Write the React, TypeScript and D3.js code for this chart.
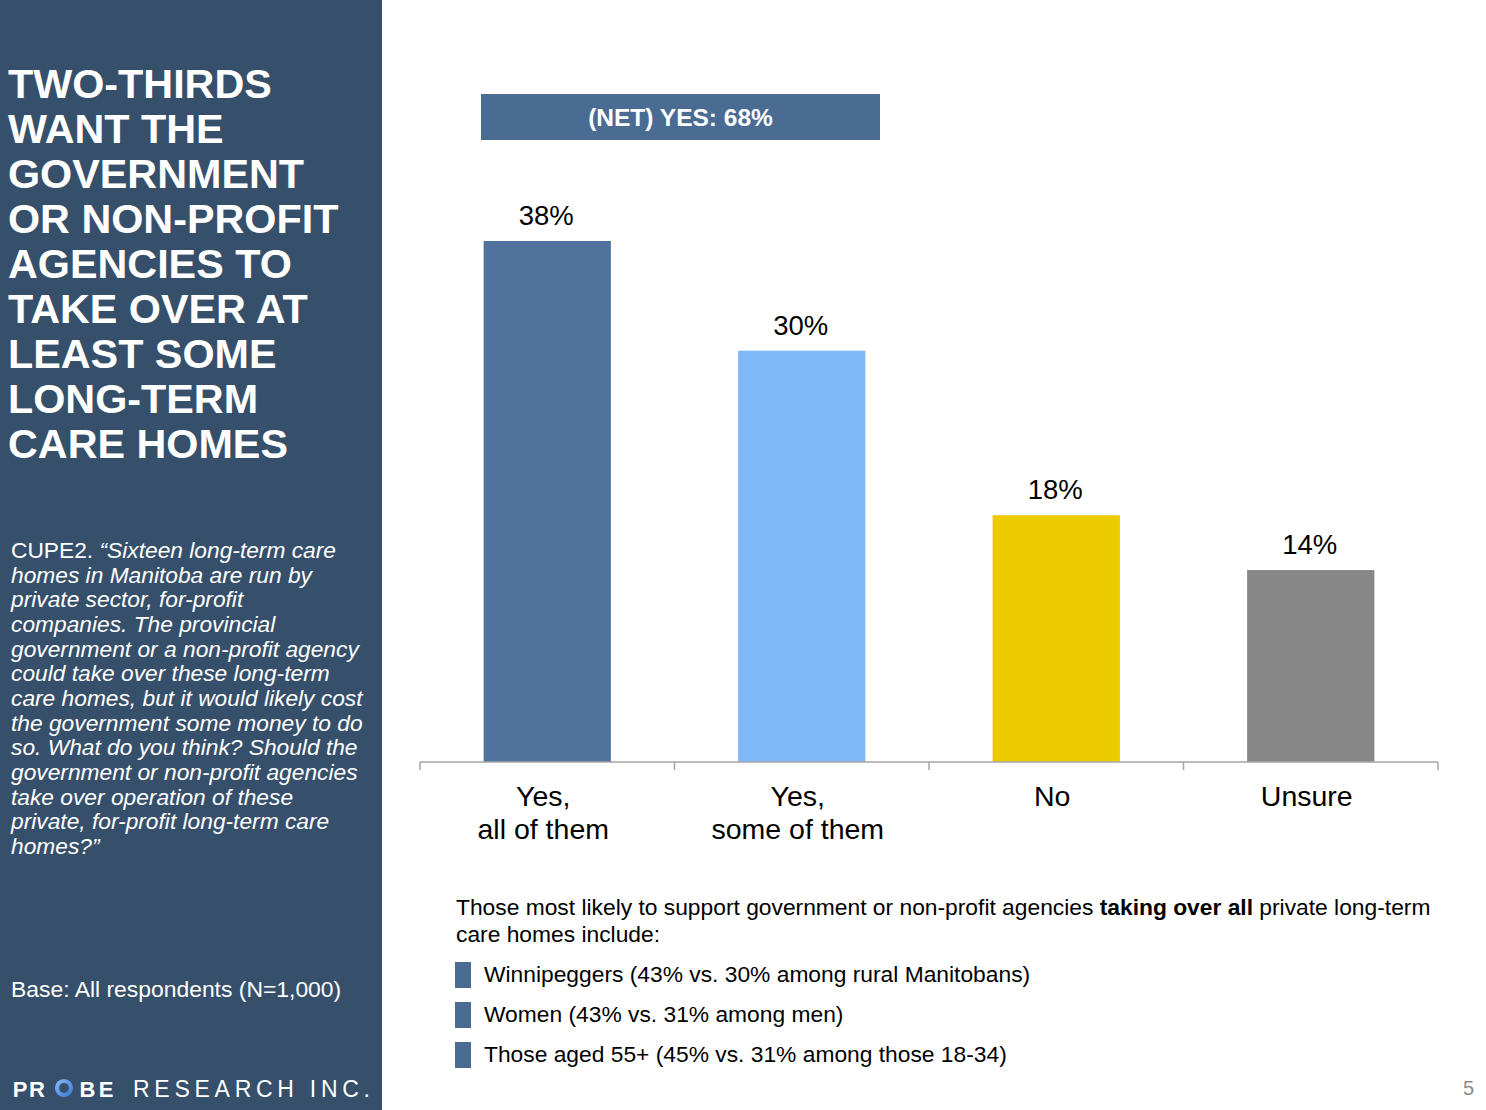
import React from "react";
import * as d3 from "d3";

const categories = ["Yes, all of them", "Yes, some of them", "No", "Unsure"];
const categoryLines = [["Yes,", "all of them"], ["Yes,", "some of them"], ["No"], ["Unsure"]];
const values = [38, 30, 18, 14];
const barColors = ["#4F739C", "#80B9FA", "#EBCB00", "#878787"];
const netLabel = "(NET) YES: 68%";
const titleLines = [
  "TWO-THIRDS",
  "WANT THE",
  "GOVERNMENT",
  "OR NON-PROFIT",
  "AGENCIES TO",
  "TAKE OVER AT",
  "LEAST SOME",
  "LONG-TERM",
  "CARE HOMES",
];
const questionLines = [
  "“Sixteen long-term care",
  "homes in Manitoba are run by",
  "private sector, for-profit",
  "companies. The provincial",
  "government or a non-profit agency",
  "could take over these long-term",
  "care homes, but it would likely cost",
  "the government some money to do",
  "so. What do you think? Should the",
  "government or non-profit agencies",
  "take over operation of these",
  "private, for-profit long-term care",
  "homes?”",
];
const baseText = "Base: All respondents (N=1,000)";
const bullets = [
  "Winnipeggers (43% vs. 30% among rural Manitobans)",
  "Women (43% vs. 31% among men)",
  "Those aged 55+ (45% vs. 31% among those 18-34)",
];
const logoLetters = ["P", "R", "O", "B", "E"];
const logoCenters = [20, 37, 64, 87.5, 106];

const W = 1486;
const H = 1110;
const FONT = "'Liberation Sans', Arial, sans-serif";

export default function App() {
  const x = d3.scaleBand<string>().domain(categories).range([420, 1438]).paddingInner(0.5).paddingOuter(0.25);
  const y = d3.scaleLinear().domain([0, 40]).range([762, 213.6]);
  const step = x.step();
  const tickXs = d3.range(categories.length + 1).map((i) => 420 + i * step);

  return (
    <svg width={W} height={H} style={{ position: "absolute", left: 0, top: 0, fontFamily: FONT }}>
      <defs>
        <linearGradient id="ringGrad" x1="0" y1="0" x2="1" y2="1">
          <stop offset="0%" stopColor="#7FB3F5" />
          <stop offset="100%" stopColor="#3F7FD8" />
        </linearGradient>
      </defs>
      <rect x={0} y={0} width={W} height={H} fill="#ffffff" />
      {/* left panel */}
      <rect x={0} y={0} width={382} height={H} fill="#364F6B" />
      {titleLines.map((t, i) => (
        <text key={i} x={8} y={98 + i * 45} fill="#ffffff" fontWeight="bold" fontSize={41.3}>
          {t}
        </text>
      ))}
      {questionLines.map((t, i) => (
        <text key={i} x={11} y={558 + i * 24.65} fill="#ffffff" fontSize={22.75}>
          {i === 0 ? <tspan>CUPE2. </tspan> : null}
          <tspan fontStyle="italic">{t}</tspan>
        </text>
      ))}
      <text x={11} y={997} fill="#ffffff" fontSize={22.9}>
        {baseText}
      </text>
      {/* logo */}
      <g fill="#ffffff" fontSize={22} fontWeight="bold" textAnchor="middle">
        {logoLetters.map((l, i) =>
          l === "O" ? (
            <circle key={i} cx={logoCenters[i]} cy={1088} r={7} fill="none" stroke="url(#ringGrad)" strokeWidth={4.2} />
          ) : (
            <text key={i} x={logoCenters[i]} y={1096.5}>
              {l}
            </text>
          )
        )}
      </g>
      <text x={133} y={1097} fill="#ffffff" fontSize={23} textLength={237} lengthAdjust="spacing">
        RESEARCH INC.
      </text>

      {/* NET box */}
      <rect x={481} y={94} width={399} height={46} fill="#4A6B92" />
      <text x={680.5} y={126} textAnchor="middle" fill="#ffffff" fontWeight="bold" fontSize={24.5}>
        {netLabel}
      </text>

      {/* bars */}
      {categories.map((c, i) => (
        <g key={c}>
          <rect
            x={x(c)}
            y={y(values[i])}
            width={x.bandwidth()}
            height={y(0) - y(values[i])}
            fill={barColors[i]}
          />
          <text
            x={(x(c) as number) + x.bandwidth() / 2 - 1}
            y={y(values[i]) - 16}
            textAnchor="middle"
            fontSize={27.5}
            fill="#000000"
          >
            {values[i]}%
          </text>
          {categoryLines[i].map((l, j) => (
            <text
              key={j}
              x={(x(c) as number) + x.bandwidth() / 2 - 4}
              y={806 + j * 33}
              textAnchor="middle"
              fontSize={28.5}
              fill="#000000"
            >
              {l}
            </text>
          ))}
        </g>
      ))}
      {/* axis */}
      <line x1={420} x2={1438} y1={762} y2={762} stroke="#A6A6A6" strokeWidth={1.5} />
      {tickXs.map((tx, i) => (
        <line key={i} x1={tx} x2={tx} y1={762} y2={770} stroke="#A6A6A6" strokeWidth={1.5} />
      ))}

      {/* notes */}
      <text x={456} y={915} fontSize={22.8} fill="#000000">
        Those most likely to support government or non-profit agencies <tspan fontWeight="bold">taking over all</tspan> private long-term
      </text>
      <text x={456} y={942} fontSize={22.8} fill="#000000">
        care homes include:
      </text>
      {bullets.map((b, i) => (
        <g key={i}>
          <rect x={455} y={962 + i * 40} width={16} height={26} fill="#4A6B92" />
          <text x={484} y={982 + i * 40} fontSize={22.8} fill="#000000">
            {b}
          </text>
        </g>
      ))}

      <text x={1474} y={1095} textAnchor="end" fontSize={20} fill="#8C8C8C">
        5
      </text>
    </svg>
  );
}
